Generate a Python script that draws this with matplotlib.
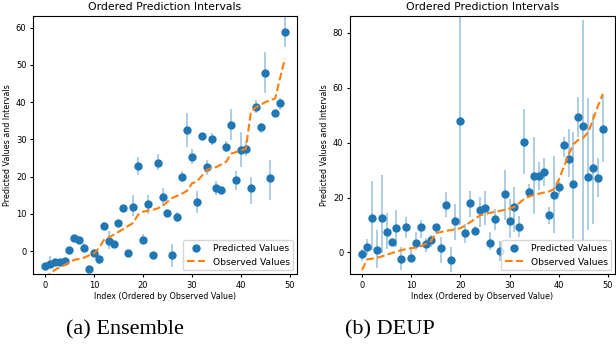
import numpy as np
import matplotlib
matplotlib.use('Agg')
import matplotlib.pyplot as plt

# (a) Ensemble
ens_pred = [-3.9, -3.3, -2.9, -2.8, -2.6, 0.4, 3.5, 3.0, 1.0, -4.8,
            -0.5, -2.0, 6.8, 2.7, 1.9, 7.6, 11.5, -0.5, 12.0, 22.8,
            3.0, 12.6, -1.1, 23.8, 14.5, 10.3, -1.1, 9.1, 20.0, 32.4,
            25.4, 13.2, 31.0, 22.5, 30.2, 17.0, 16.4, 28.0, 33.8, 19.1,
            27.2, 27.3, 17.0, 38.7, 33.2, 47.7, 19.6, 37.0, 39.7, 58.8]
ens_lo = [-4.4, -4.1, -3.4, -3.3, -3.1, -0.1, 2.9, 2.0, 0.0, -5.3,
          -1.5, -3.3, 5.8, 0.5, 1.3, 6.8, 10.8, -1.3, 9.5, 20.5,
          2.0, 10.1, -1.8, 21.7, 12.2, 9.6, -4.1, 7.8, 18.5, 28.0,
          23.5, 10.2, 30.3, 20.5, 28.5, 15.2, 15.5, 26.5, 29.8, 16.5,
          22.7, 25.5, 12.8, 37.0, 31.8, 42.5, 13.8, 36.5, 38.0, 54.9]
ens_hi = [-3.4, -1.3, -2.4, -2.3, -2.1, 0.9, 4.1, 4.0, 2.3, -4.3,
          0.5, -0.8, 7.8, 5.5, 2.5, 8.4, 12.2, 0.3, 15.0, 25.2,
          4.5, 15.0, -0.4, 26.0, 17.0, 11.0, 2.0, 10.5, 21.5, 37.0,
          27.5, 16.2, 31.7, 24.5, 31.8, 18.8, 17.2, 29.5, 38.1, 21.5,
          32.0, 29.5, 19.8, 40.5, 34.5, 53.4, 24.5, 37.5, 41.0, 64.0]
ens_obs = [-7.5, -6.0, -5.0, -4.3, -3.7, -3.0, -2.3, -2.0, -1.7, -1.1,
           -0.6, 0.8, 3.0, 3.7, 4.4, 5.2, 6.0, 6.8, 7.6, 9.8,
           10.6, 10.9, 11.1, 11.5, 12.1, 13.3, 14.3, 14.9, 15.5, 16.2,
           18.2, 18.7, 20.2, 21.8, 22.3, 22.6, 23.3, 24.0, 26.2, 26.6,
           27.0, 27.5, 37.0, 38.6, 39.3, 40.0, 40.5, 41.0, 46.5, 51.7]

# (b) DEUP
deup_pred = [-0.6, 1.9, 12.7, 0.9, 12.4, 7.5, 3.6, 8.8, -2.5, 9.1,
             -2.2, 3.4, 9.4, 3.1, 4.4, 9.2, 1.7, 17.1, -2.8, 11.6,
             48.0, 6.9, 17.9, 7.9, 15.3, 16.0, 3.4, 12.0, 0.5, 21.4,
             11.6, 16.4, 9.1, 40.1, 22.1, 27.8, 27.8, 29.4, 13.7, 20.9,
             23.7, 39.0, 33.9, 24.9, 49.5, 46.0, 27.5, 30.6, 27.2, 44.9]
deup_lo = [-3.2, -1.0, 0.8, -5.8, -0.4, 1.1, 2.5, 2.1, -6.5, 5.1,
           -3.4, 0.8, 5.1, 0.2, 2.1, 6.9, -4.0, 13.0, -7.0, 4.5,
           10.0, 3.5, 13.0, 6.2, 9.3, 10.0, 0.8, 8.0, -3.0, 11.8,
           5.1, 7.5, 5.5, 28.5, 20.0, 14.0, 22.7, 24.3, 10.5, 7.0,
           21.0, 34.9, 27.6, 5.0, 42.2, 4.0, 8.0, 10.5, 20.3, 33.1]
deup_hi = [1.2, 4.7, 26.0, 8.1, 28.1, 14.2, 5.0, 15.4, 2.1, 13.0,
           2.1, 7.5, 11.8, 5.1, 6.3, 10.5, 5.7, 22.0, 2.1, 17.8,
           95.0, 10.5, 22.5, 9.5, 20.2, 22.5, 7.5, 15.9, 4.0, 30.0,
           19.6, 24.0, 13.3, 52.3, 25.0, 42.2, 33.0, 34.4, 16.6, 35.0,
           26.3, 42.2, 45.0, 44.0, 56.7, 84.7, 56.3, 50.5, 34.3, 57.0]
deup_obs = [-6.5, -2.6, -2.3, -2.0, -1.5, -0.9, -0.3, 0.3, 0.8, 1.2,
            1.5, 1.8, 2.3, 3.1, 4.0, 7.0, 7.4, 7.8, 8.1, 8.4,
            8.8, 9.8, 11.0, 12.2, 13.5, 14.0, 14.4, 14.8, 15.1, 15.5,
            16.0, 16.6, 18.0, 19.5, 20.4, 20.9, 21.4, 21.8, 22.2, 23.0,
            26.5, 31.0, 35.5, 39.5, 41.0, 41.8, 43.8, 48.5, 53.5, 57.8]


def draw_panel(ax, pred, lo, hi, obs, ylim, yticks):
    idx = np.arange(len(pred))
    pred = np.array(pred)
    yerr = [pred - np.array(lo), np.array(hi) - pred]
    ax.errorbar(idx, pred, yerr=yerr, fmt='none', ecolor='tab:blue',
                alpha=0.4, elinewidth=1.3, capsize=0)
    ax.plot(idx, pred, 'o', color='tab:blue', markersize=5,
            label='Predicted Values')
    ax.plot(idx, obs, '--', color='tab:orange', linewidth=1.5,
            label='Observed Values')

    ax.set_xlim(-2.45, 51.45)
    ax.set_ylim(*ylim)
    ax.set_xticks([0, 10, 20, 30, 40, 50])
    ax.set_yticks(yticks)
    ax.tick_params(labelsize=6, length=2.2, pad=2.5)
    ax.set_title('Ordered Prediction Intervals', fontsize=7.8, pad=4)
    ax.set_xlabel('Index (Ordered by Observed Value)', fontsize=5.8, labelpad=2)
    ax.set_ylabel('Predicted Values and Intervals', fontsize=5.8, labelpad=3)
    ax.legend(loc='lower right', fontsize=6.6, borderaxespad=0.4)


def main():
    fig = plt.figure(figsize=(6.16, 3.5), dpi=100)

    ax_a = fig.add_axes([33 / 616, 76 / 350, 264 / 616, 258 / 350])
    ax_b = fig.add_axes([350 / 616, 76 / 350, 265 / 616, 258 / 350])

    draw_panel(ax_a, ens_pred, ens_lo, ens_hi, ens_obs, (-6.1, 63.1),
               [0, 10, 20, 30, 40, 50, 60])
    draw_panel(ax_b, deup_pred, deup_lo, deup_hi, deup_obs, (-7.9, 86.2),
               [0, 20, 40, 60, 80])

    serif = ['Liberation Serif', 'DejaVu Serif']
    fig.text(125 / 616, 20 / 350, '(a) Ensemble', ha='center', va='center',
             fontsize=16, family=serif)
    fig.text(390 / 616, 20 / 350, '(b) DEUP', ha='center', va='center',
             fontsize=16, family=serif)

    fig.savefig('out.png', dpi=100)


if __name__ == '__main__':
    main()
